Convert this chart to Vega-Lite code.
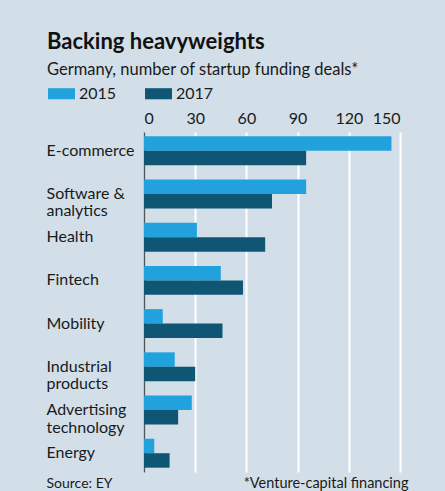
{
  "$schema": "https://vega.github.io/schema/vega-lite/v6.json",
  "width": 256,
  "height": 340,
  "autosize": {"type": "none"},
  "padding": {"left": 144, "top": 132, "right": 45, "bottom": 19},
  "background": "#d2dfe9",
  "title": {
    "text": "Backing heavyweights",
    "subtitle": "Germany, number of startup funding deals*",
    "anchor": "start",
    "frame": "group",
    "dx": -97,
    "fontSize": 22,
    "fontWeight": "bold",
    "font": "Lato",
    "color": "#111111",
    "subtitleFont": "Lato",
    "subtitleFontSize": 16.5,
    "subtitleColor": "#1a1a1a",
    "subtitlePadding": 8,
    "offset": 1
  },
  "data": {
    "values": [
      {"sector": "E-commerce", "year": "2015", "deals": 145},
      {"sector": "E-commerce", "year": "2017", "deals": 95},
      {"sector": "Software & analytics", "year": "2015", "deals": 95},
      {"sector": "Software & analytics", "year": "2017", "deals": 75},
      {"sector": "Health", "year": "2015", "deals": 31},
      {"sector": "Health", "year": "2017", "deals": 71},
      {"sector": "Fintech", "year": "2015", "deals": 45},
      {"sector": "Fintech", "year": "2017", "deals": 58},
      {"sector": "Mobility", "year": "2015", "deals": 11},
      {"sector": "Mobility", "year": "2017", "deals": 46},
      {"sector": "Industrial products", "year": "2015", "deals": 18},
      {"sector": "Industrial products", "year": "2017", "deals": 30},
      {"sector": "Advertising technology", "year": "2015", "deals": 28},
      {"sector": "Advertising technology", "year": "2017", "deals": 20},
      {"sector": "Energy", "year": "2015", "deals": 6},
      {"sector": "Energy", "year": "2017", "deals": 15}
    ]
  },
  "mark": {"type": "bar"},
  "encoding": {
    "y": {
      "field": "sector",
      "type": "nominal",
      "sort": null,
      "scale": {"paddingInner": 0.33, "paddingOuter": 0.1},
      "axis": {
        "orient": "left",
        "labelAlign": "left",
        "labelPadding": 98,
        "labelFontSize": 16,
        "labelFont": "Lato",
        "labelColor": "#1a1a1a",
        "labelLineHeight": 17.5,
        "labelExpr": "datum.label == 'Software & analytics' ? ['Software &', 'analytics'] : datum.label == 'Industrial products' ? ['Industrial', 'products'] : datum.label == 'Advertising technology' ? ['Advertising', 'technology'] : datum.label",
        "ticks": false,
        "domain": true,
        "domainColor": "#555555",
        "domainWidth": 1.5,
        "title": "Source: EY",
        "titleAngle": 0,
        "titleAlign": "left",
        "titleBaseline": "alphabetic",
        "titleX": -98,
        "titleY": 355,
        "titleFont": "Lato",
        "titleFontSize": 14,
        "titleFontWeight": "normal",
        "titleColor": "#1a1a1a"
      }
    },
    "yOffset": {"field": "year", "type": "nominal", "scale": {"paddingInner": 0}},
    "x": {
      "field": "deals",
      "type": "quantitative",
      "scale": {"domain": [0, 150], "nice": false},
      "axis": {
        "orient": "top",
        "values": [0, 30, 60, 90, 120, 150],
        "labelFontSize": 16,
        "labelFont": "Lato",
        "labelColor": "#1a1a1a",
        "labelPadding": 6,
        "ticks": false,
        "domain": false,
        "grid": true,
        "gridColor": "#ffffff",
        "gridWidth": 2,
        "title": "*Venture-capital financing",
        "titleAnchor": "start",
        "titleAlign": "right",
        "titleBaseline": "alphabetic",
        "titleX": 264,
        "titleY": 355,
        "titleFont": "Lato",
        "titleFontSize": 14.5,
        "titleFontWeight": "normal",
        "titleColor": "#1a1a1a"
      }
    },
    "color": {
      "field": "year",
      "type": "nominal",
      "scale": {"domain": ["2015", "2017"], "range": ["#22a2dc", "#0f5675"]},
      "legend": {
        "orient": "none",
        "legendX": -96,
        "legendY": -52,
        "direction": "horizontal",
        "title": null,
        "labelFont": "Lato",
        "labelFontSize": 16,
        "labelColor": "#1a1a1a",
        "labelOffset": 4,
        "symbolType": "M-1,-0.41H1V0.41H-1Z",
        "symbolSize": 729,
        "symbolStrokeWidth": 0,
        "symbolOpacity": 1,
        "columnPadding": 28
      }
    }
  },
  "config": {"view": {"stroke": null}}
}
